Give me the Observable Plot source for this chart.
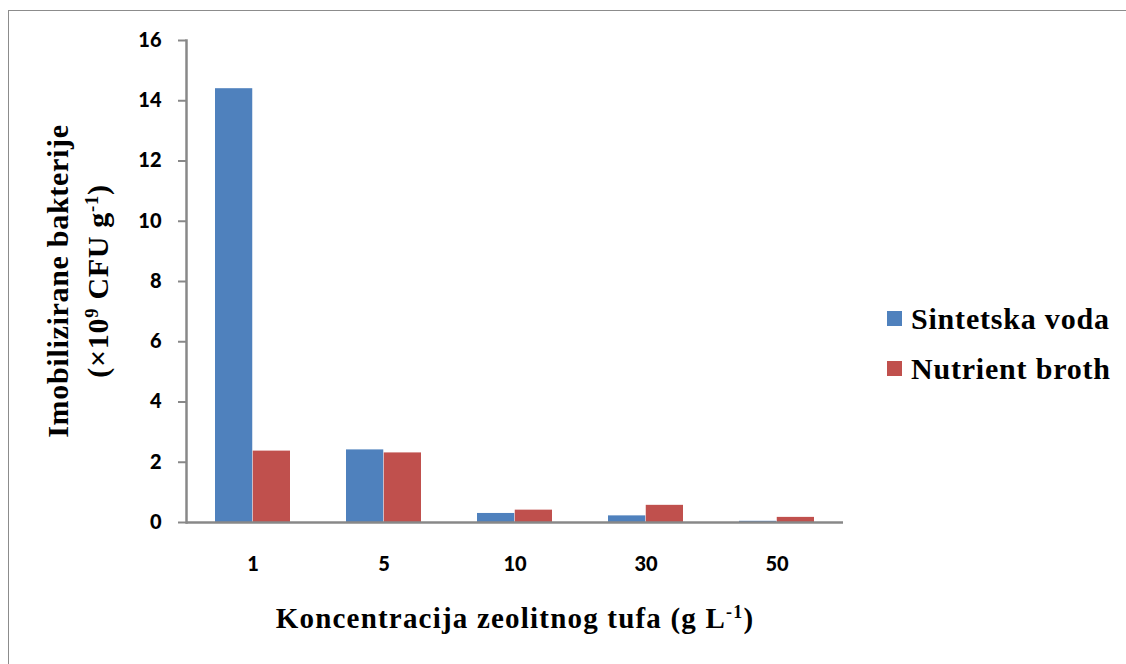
<!DOCTYPE html>
<html>
<head>
<meta charset="utf-8">
<script src="https://cdn.jsdelivr.net/npm/d3@7"></script>
<script src="https://cdn.jsdelivr.net/npm/@observablehq/plot@0.6"></script>
<style>
  html, body { margin: 0; padding: 0; background: #fff; }
  #wrap { position: relative; width: 1126px; height: 664px; overflow: hidden; }
  #border { position: absolute; left: 8px; top: 10px; width: 1140px; height: 680px; border: 1px solid #8c8c8c; box-sizing: border-box; }
  #chart { position: absolute; left: 0; top: 0; }
  .serif { font-family: "Liberation Serif", "Times New Roman", serif; font-weight: bold; color: #000; white-space: nowrap; }
  .sup { font-size: 0.62em; vertical-align: 0.55em; line-height: 0; }
  #ytitle { position: absolute; width: 500px; height: 80px; left: -172px; top: 241px; transform: rotate(-90deg); text-align: center; font-size: 30px; line-height: 40px; letter-spacing: 0.7px; }
  #xtitle { position: absolute; left: 135px; width: 760px; top: 604px; text-align: center; font-size: 29px; line-height: 29px; letter-spacing: 1.2px; }
  .leg { position: absolute; left: 887px; font-size: 30px; line-height: 30px; letter-spacing: 0.8px; }
  .leg .sw { position: absolute; left: 0; width: 15px; height: 15px; top: 7px; }
  .leg .lbl { position: absolute; left: 24px; top: 0; }
</style>
</head>
<body>
<div id="wrap">
  <div id="border"></div>
  <div id="chart"></div>
  <div id="ytitle" class="serif">Imobilizirane bakterije<br>(×10<span class="sup">9</span> CFU g<span class="sup">-1</span>)</div>
  <div id="xtitle" class="serif">Koncentracija zeolitnog tufa (g L<span class="sup">-1</span>)</div>
  <div id="legend"></div>
</div>
<script>
const categories = ["1", "5", "10", "30", "50"];
const seriesNames = ["Sintetska voda", "Nutrient broth"];
const seriesColors = ["#4F81BD", "#C0504D"];
const sintetskaVoda = [14.4, 2.41, 0.30, 0.22, 0.04];
const nutrientBroth = [2.37, 2.31, 0.41, 0.57, 0.17];
const yTicks = [0, 2, 4, 6, 8, 10, 12, 14, 16];

const rows = categories.map((c, i) => ({conc: c, sint: sintetskaVoda[i], nutr: nutrientBroth[i]}));

const plot = Plot.plot({
  width: 1126,
  height: 664,
  marginLeft: 186,
  marginRight: 283,
  marginTop: 40,
  marginBottom: 142,
  style: {fontFamily: "Lato, 'Open Sans', sans-serif", fontSize: "20px", fontWeight: "900", color: "#000", background: "transparent"},
  x: {domain: categories, padding: 0},
  y: {domain: [0, 16]},
  marks: [
    Plot.barY(rows, {x: "conc", y: "sint", fill: seriesColors[0], insetLeft: 28, insetRight: 65.75}),
    Plot.barY(rows, {x: "conc", y: "nutr", fill: seriesColors[1], insetLeft: 65.75, insetRight: 28}),
    Plot.axisY({ticks: yTicks, tickSize: 8, tickPadding: 17, stroke: "#888", strokeWidth: 2, fill: "#000", label: null, tickFormat: d => String(d)}),
    Plot.axisX({tickSize: 0, tickPadding: 34, fill: "#000", label: null}),
    Plot.frame({anchor: "left", stroke: "#888", strokeWidth: 2.5}),
    Plot.ruleY([0], {stroke: "#888", strokeWidth: 2.5})
  ]
});
document.getElementById("chart").appendChild(plot);

const legend = document.getElementById("legend");
const legTops = [304, 354];
seriesNames.forEach((name, i) => {
  const d = document.createElement("div");
  d.className = "leg serif";
  d.style.top = legTops[i] + "px";
  d.innerHTML = `<div class="sw" style="background:${seriesColors[i]}"></div><div class="lbl">${name}</div>`;
  legend.appendChild(d);
});
</script>
</body>
</html>
